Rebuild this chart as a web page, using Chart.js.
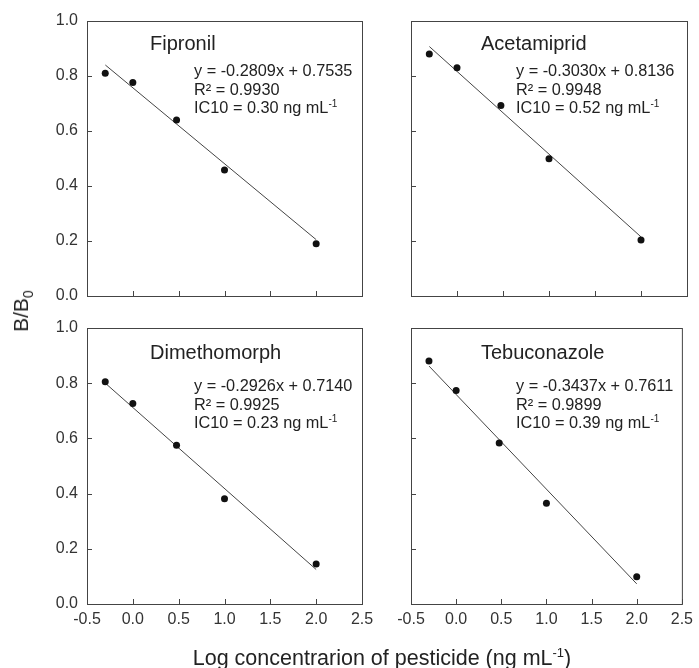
<!DOCTYPE html>
<html>
<head>
<meta charset="utf-8">
<script src="https://cdn.jsdelivr.net/npm/chart.js@4.4.0/dist/chart.umd.min.js"></script>
<style>
  body { margin: 0; background: #fff; }
  #wrap { position: relative; width: 699px; height: 668px; font-family: "Liberation Sans", Arial, sans-serif; color: #222; }
  canvas { position: absolute; left: 0; top: 0; }
  .lbl { position: absolute; white-space: nowrap; }
  .ttl { font-size: 20px; line-height: 24px; }
  .eq { font-size: 16.3px; line-height: 18.5px; }
  .eq sup { font-size: 10px; vertical-align: 6px; line-height: 0; }
  sup { font-size: 13px; vertical-align: 8px; line-height: 0; }
  sub { font-size: 14px; vertical-align: -5px; line-height: 0; }
</style>
</head>
<body>
<div id="wrap">
  <canvas id="c1" width="699" height="668"></canvas>
  <canvas id="c2" width="699" height="668"></canvas>
  <canvas id="c3" width="699" height="668"></canvas>
  <canvas id="c4" width="699" height="668"></canvas>

  <div class="lbl ttl" style="left:150px;top:31px">Fipronil</div>
  <div class="lbl eq" style="left:194px;top:61px">y = -0.2809x + 0.7535<br>R² = 0.9930<br>IC10 = 0.30 ng mL<sup>-1</sup></div>

  <div class="lbl ttl" style="left:481px;top:31px">Acetamiprid</div>
  <div class="lbl eq" style="left:516px;top:61px">y = -0.3030x + 0.8136<br>R² = 0.9948<br>IC10 = 0.52 ng mL<sup>-1</sup></div>

  <div class="lbl ttl" style="left:150px;top:340px">Dimethomorph</div>
  <div class="lbl eq" style="left:194px;top:376px">y = -0.2926x + 0.7140<br>R² = 0.9925<br>IC10 = 0.23 ng mL<sup>-1</sup></div>

  <div class="lbl ttl" style="left:481px;top:340px">Tebuconazole</div>
  <div class="lbl eq" style="left:516px;top:376px">y = -0.3437x + 0.7611<br>R² = 0.9899<br>IC10 = 0.39 ng mL<sup>-1</sup></div>

  <div class="lbl" style="font-size:21px;left:21px;top:311px;transform:translate(-50%,-50%) rotate(-90deg)">B/B<sub>0</sub></div>
  <div class="lbl" style="font-size:21.5px;left:382px;top:658px;transform:translate(-50%,-50%)">Log concentrarion of pesticide (ng mL<sup>-1</sup>)</div>
</div>

<script>
// log of concentrations (ng/mL)
const logConc = [-0.301, 0, 0.477, 1, 2];
const fipronil = [0.81, 0.776, 0.64, 0.458, 0.19];
const acetamiprid = [0.88, 0.83, 0.693, 0.499, 0.204];
const dimethomorph = [0.805, 0.726, 0.575, 0.381, 0.145];
const tebuconazole = [0.88, 0.774, 0.583, 0.365, 0.099];

// regression line ends
const fitX = [-0.3, 2.0];
const fipronilFit = [0.84, 0.205];
const acetamipridFit = [0.907, 0.215];
const dimethomorphFit = [0.80, 0.125];
const tebuconazoleFit = [0.862, 0.073];

const xTicks = [-0.5, 0, 0.5, 1, 1.5, 2, 2.5];
const yTicks = [0, 0.2, 0.4, 0.6, 0.8, 1.0];

function pts(xs, ys) {
  return xs.map((x, i) => ({ x: x, y: ys[i] }));
}

// box + inward tick marks
const boxPlugin = {
  id: 'box',
  afterDraw(chart) {
    const ctx = chart.ctx, a = chart.chartArea;
    const xs = chart.scales.x, ys = chart.scales.y;
    ctx.save();
    ctx.strokeStyle = '#444';
    ctx.lineWidth = 1;
    ctx.strokeRect(a.left + 0.5, a.top + 0.5, a.right - a.left, a.bottom - a.top);
    ctx.beginPath();
    xTicks.forEach(v => {
      const p = Math.round(xs.getPixelForValue(v)) + 0.5;
      ctx.moveTo(p, a.bottom);
      ctx.lineTo(p, a.bottom - 5);
    });
    yTicks.forEach(v => {
      const p = Math.round(ys.getPixelForValue(v)) + 0.5;
      ctx.moveTo(a.left, p);
      ctx.lineTo(a.left + 5, p);
    });
    ctx.stroke();
    ctx.restore();
  }
};

function makePanel(id, values, fit, box, showY, showX) {
  new Chart(document.getElementById(id), {
    data: {
      datasets: [{
        type: 'scatter',
        data: pts(logConc, values),
        pointRadius: 3.5,
        pointBackgroundColor: '#111',
        pointBorderWidth: 0
      }, {
        type: 'line',
        data: pts(fitX, fit),
        borderColor: '#444',
        borderWidth: 1,
        pointRadius: 0,
        fill: false
      }]
    },
    options: {
      responsive: false,
      animation: false,
      events: [],
      layout: { padding: { left: 0, top: box.top, right: 699 - box.right, bottom: showX ? 668 - box.bottom - 40 : 668 - box.bottom } },
      plugins: { legend: { display: false }, tooltip: { enabled: false } },
      scales: {
        x: {
          type: 'linear', min: -0.5, max: 2.5,
          afterFit(s) { s.height = showX ? 40 : 0; },
          afterBuildTicks(s) { s.ticks = xTicks.map(v => ({ value: v })); },
          grid: { display: false, drawTicks: false },
          border: { display: false },
          ticks: {
            display: showX, padding: 6, color: '#333',
            font: { family: 'Liberation Sans', size: 16 },
            callback: v => v.toFixed(1)
          }
        },
        y: {
          type: 'linear', min: 0, max: 1,
          afterFit(s) { s.width = box.left; },
          afterBuildTicks(s) { s.ticks = yTicks.map(v => ({ value: v })); },
          grid: { display: false, drawTicks: false },
          border: { display: false },
          ticks: {
            display: showY, padding: 9, color: '#333',
            font: { family: 'Liberation Sans', size: 16 },
            callback: v => v.toFixed(1)
          }
        }
      }
    },
    plugins: [boxPlugin]
  });
}

makePanel('c1', fipronil, fipronilFit, { left: 87, top: 21, right: 362, bottom: 296 }, true, false);
makePanel('c2', acetamiprid, acetamipridFit, { left: 411, top: 21, right: 687, bottom: 296 }, false, false);
makePanel('c3', dimethomorph, dimethomorphFit, { left: 87, top: 328, right: 362, bottom: 604 }, true, true);
makePanel('c4', tebuconazole, tebuconazoleFit, { left: 411, top: 328, right: 687, bottom: 604 }, false, true);
</script>
</body>
</html>
